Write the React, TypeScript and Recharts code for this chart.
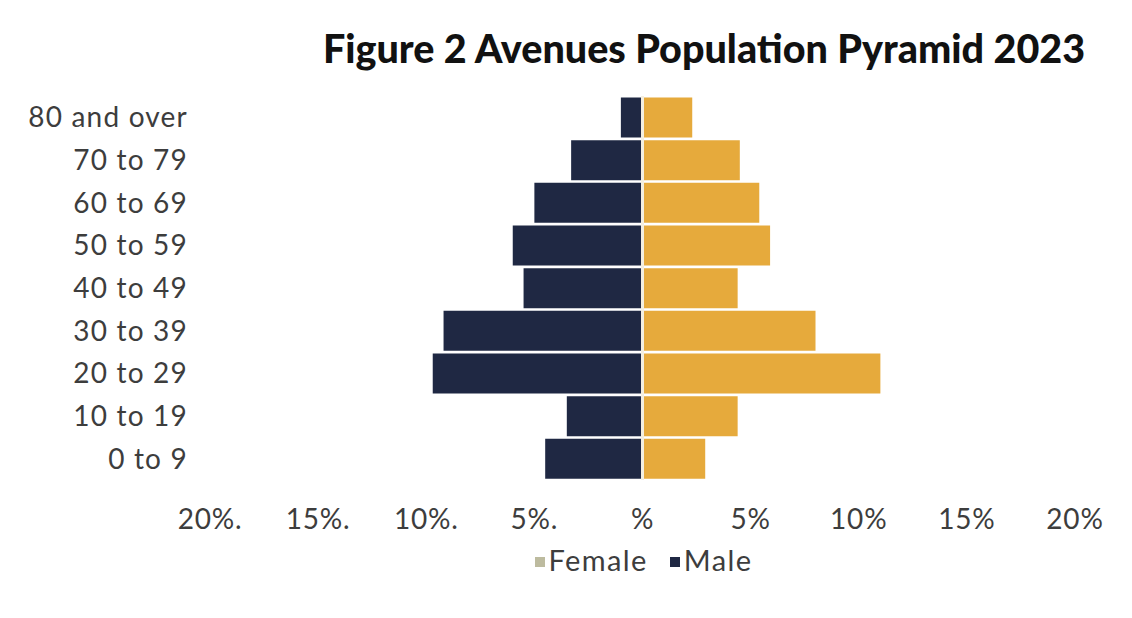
import React from 'react';
import { BarChart, Bar, XAxis, YAxis, ReferenceLine } from 'recharts';

const categories = ['80 and over', '70 to 79', '60 to 69', '50 to 59', '40 to 49', '30 to 39', '20 to 29', '10 to 19', '0 to 9'];
const malePct = [1.0, 3.3, 5.0, 6.0, 5.5, 9.2, 9.7, 3.5, 4.5];
const femalePct = [2.3, 4.5, 5.4, 5.9, 4.4, 8.0, 11.0, 4.4, 2.9];
const xTicks = [-20, -15, -10, -5, 0, 5, 10, 15, 20];
const xTickLabels = ['20%.', '15%.', '10%.', '5%.', '%', '5%', '10%', '15%', '20%'];
const legendItems = ['Female', 'Male'];

const MALE = '#1f2843';
const FEMALE = '#e6aa3c';
const FEMALE_LEGEND = '#bdbb9f';
const FONT = 'Lato, "Noto Sans", sans-serif';
const TEXT = '#3d3d3d';

const data = categories.map((c, i) => ({ age: c, Male: -malePct[i], Female: femalePct[i] }));

export default function App() {
  return (
    <div style={{ position: 'absolute', left: 0, top: 0, width: 1132, height: 618, background: '#fff', fontFamily: FONT }}>
      <div style={{ position: 'absolute', left: 0, width: 1132, top: 24, textAlign: 'center', paddingLeft: 276, boxSizing: 'border-box', fontSize: 39.5, fontWeight: 900, color: '#111', whiteSpace: 'nowrap' }}>
        Figure 2 Avenues Population Pyramid 2023
      </div>
      <BarChart
        width={1132}
        height={618}
        data={data}
        layout="vertical"
        stackOffset="sign"
        barCategoryGap={1.5}
        margin={{ top: 96, right: 57, bottom: 108, left: 20 }}
      >
        <XAxis
          type="number"
          domain={[-20, 20]}
          ticks={xTicks}
          tickFormatter={(v: number) => xTickLabels[xTicks.indexOf(v)]}
          axisLine={false}
          tickLine={false}
          tickMargin={23}
          tick={{ fontSize: 28, fill: TEXT, fontFamily: FONT, letterSpacing: 0.8 }}
          interval={0}
        />
        <YAxis
          type="category"
          dataKey="age"
          width={190}
          axisLine={false}
          tickLine={false}
          tickMargin={16}
          interval={0}
          tick={{ fontSize: 28, fill: TEXT, fontFamily: FONT, letterSpacing: 1.2 }}
        />
        <Bar dataKey="Male" stackId="a" fill={MALE} isAnimationActive={false} />
        <Bar dataKey="Female" stackId="a" fill={FEMALE} isAnimationActive={false} />
        <ReferenceLine x={0} stroke="#f4efe0" strokeWidth={3} />
      </BarChart>
      <div style={{ position: 'absolute', left: 0, width: 1132, top: 542, textAlign: 'center', paddingLeft: 155, boxSizing: 'border-box', fontSize: 29, letterSpacing: 1.4, color: TEXT, whiteSpace: 'nowrap' }}>
        {legendItems.map((name, i) => (
          <span key={name} style={{ marginLeft: i ? 22 : 0 }}>
            <span style={{ display: 'inline-block', width: 10, height: 10, background: i ? MALE : FEMALE_LEGEND, marginRight: 4, verticalAlign: 'middle', position: 'relative', top: -2 }} />
            {name}
          </span>
        ))}
      </div>
    </div>
  );
}
